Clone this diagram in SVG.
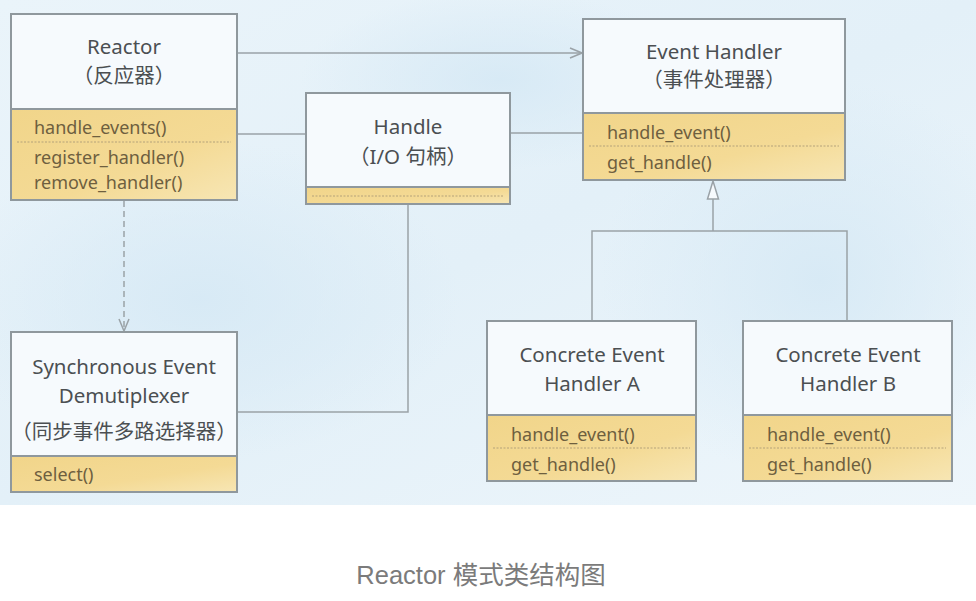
<svg xmlns="http://www.w3.org/2000/svg" width="976" height="601" viewBox="0 0 976 601">
<defs>
<style>
.box{fill:#f6fafd;stroke:#8f989d;stroke-width:2}
.ops{fill:url(#yel);stroke:#8f989d;stroke-width:2}
.sep{stroke:#b4a27a;stroke-width:1;stroke-dasharray:2 1.5}
.t{font-family:"Noto Sans","Noto Sans CJK SC",sans-serif;font-size:20.5px;fill:#4b4f52;text-anchor:middle}
.m{font-family:"Noto Sans","Noto Sans CJK SC",sans-serif;font-size:18px;fill:#6e5f3f}
.c{fill:none;stroke:#9aa2a7;stroke-width:1.5}
</style>
<linearGradient id="yel" x1="0" y1="0" x2="1" y2="1">
<stop offset="0" stop-color="#f1d58a"/>
<stop offset="0.6" stop-color="#f4da95"/>
<stop offset="1" stop-color="#f7e6b4"/>
</linearGradient>
<linearGradient id="bg" x1="0" y1="0" x2="1" y2="1">
<stop offset="0" stop-color="#eaf4fa"/>
<stop offset="0.5" stop-color="#e3f0f8"/>
<stop offset="1" stop-color="#eef6fb"/>
</linearGradient>
<radialGradient id="blob" cx="0.5" cy="0.5" r="0.5">
<stop offset="0" stop-color="#d6e9f5" stop-opacity="0.9"/>
<stop offset="1" stop-color="#d6e9f5" stop-opacity="0"/>
</radialGradient>
<marker id="open" markerWidth="14" markerHeight="12" refX="13" refY="6" orient="auto" markerUnits="userSpaceOnUse">
<path d="M1,1 L13,6 L1,11" fill="none" stroke="#9aa2a7" stroke-width="1.5"/>
</marker>
</defs>
<rect x="0" y="0" width="976" height="601" fill="#ffffff"/>
<rect x="0" y="0" width="976" height="505" fill="url(#bg)"/>
<ellipse cx="200" cy="300" rx="260" ry="160" fill="url(#blob)"/>
<ellipse cx="820" cy="280" rx="220" ry="200" fill="url(#blob)"/>
<ellipse cx="500" cy="80" rx="200" ry="90" fill="url(#blob)"/>

<g id="connectors">
<line class="c" x1="237" y1="53" x2="582" y2="53" marker-end="url(#open)"/>
<line class="c" x1="237" y1="134" x2="306" y2="134"/>
<line class="c" x1="510" y1="133" x2="583" y2="133"/>
<polyline class="c" points="408,205 408,412 238,412"/>
<line class="c" x1="124" y1="201" x2="124" y2="331" stroke-dasharray="6 4" marker-end="url(#open)"/>
<polyline class="c" points="592,320 592,231 847,231 847,320"/>
<line class="c" x1="713" y1="231" x2="713" y2="199"/>
<polygon points="713,181 707.5,199 718.5,199" fill="#f6fafd" stroke="#9aa2a7" stroke-width="1.5"/>
</g>

<g id="reactor">
<rect class="box" x="11" y="14" width="226" height="95"/>
<rect class="ops" x="11" y="109" width="226" height="91"/>
<line class="sep" x1="17" y1="142" x2="231" y2="142"/>
<text class="t" x="124" y="54">Reactor</text>
<text class="t" x="124" y="83">（反应器）</text>
<text class="m" x="34" y="134">handle_events()</text>
<text class="m" x="34" y="164">register_handler()</text>
<text class="m" x="34" y="189">remove_handler()</text>
</g>

<g id="handle">
<rect class="box" x="306" y="93" width="204" height="94"/>
<rect class="ops" x="306" y="187" width="204" height="17"/>
<line class="sep" x1="312" y1="196" x2="504" y2="196"/>
<text class="t" x="408" y="134">Handle</text>
<text class="t" x="408" y="164">（I/O 句柄）</text>
</g>

<g id="event-handler">
<rect class="box" x="583" y="19" width="262" height="94"/>
<rect class="ops" x="583" y="113" width="262" height="67"/>
<line class="sep" x1="589" y1="146" x2="839" y2="146"/>
<text class="t" x="714" y="59">Event Handler</text>
<text class="t" x="714" y="87">（事件处理器）</text>
<text class="m" x="607" y="139">handle_event()</text>
<text class="m" x="607" y="169">get_handle()</text>
</g>

<g id="demux">
<rect class="box" x="11" y="332" width="226" height="124"/>
<rect class="ops" x="11" y="456" width="226" height="36"/>
<text class="t" x="124" y="374">Synchronous Event</text>
<text class="t" x="124" y="403">Demutiplexer</text>
<text class="t" x="124" y="439">（同步事件多路选择器）</text>
<text class="m" x="34" y="481">select()</text>
</g>

<g id="concrete-a">
<rect class="box" x="487" y="321" width="209" height="94"/>
<rect class="ops" x="487" y="415" width="209" height="66"/>
<line class="sep" x1="493" y1="448" x2="690" y2="448"/>
<text class="t" x="592" y="362">Concrete Event</text>
<text class="t" x="592" y="391">Handler A</text>
<text class="m" x="511" y="441">handle_event()</text>
<text class="m" x="511" y="471">get_handle()</text>
</g>

<g id="concrete-b">
<rect class="box" x="743" y="321" width="209" height="94"/>
<rect class="ops" x="743" y="415" width="209" height="66"/>
<line class="sep" x1="749" y1="448" x2="946" y2="448"/>
<text class="t" x="848" y="362">Concrete Event</text>
<text class="t" x="848" y="391">Handler B</text>
<text class="m" x="767" y="441">handle_event()</text>
<text class="m" x="767" y="471">get_handle()</text>
</g>

<text x="481" y="584" font-family="'Liberation Sans','Noto Sans CJK SC',sans-serif" font-size="25.5" fill="#7b7b7b" text-anchor="middle">Reactor 模式类结构图</text>
</svg>
